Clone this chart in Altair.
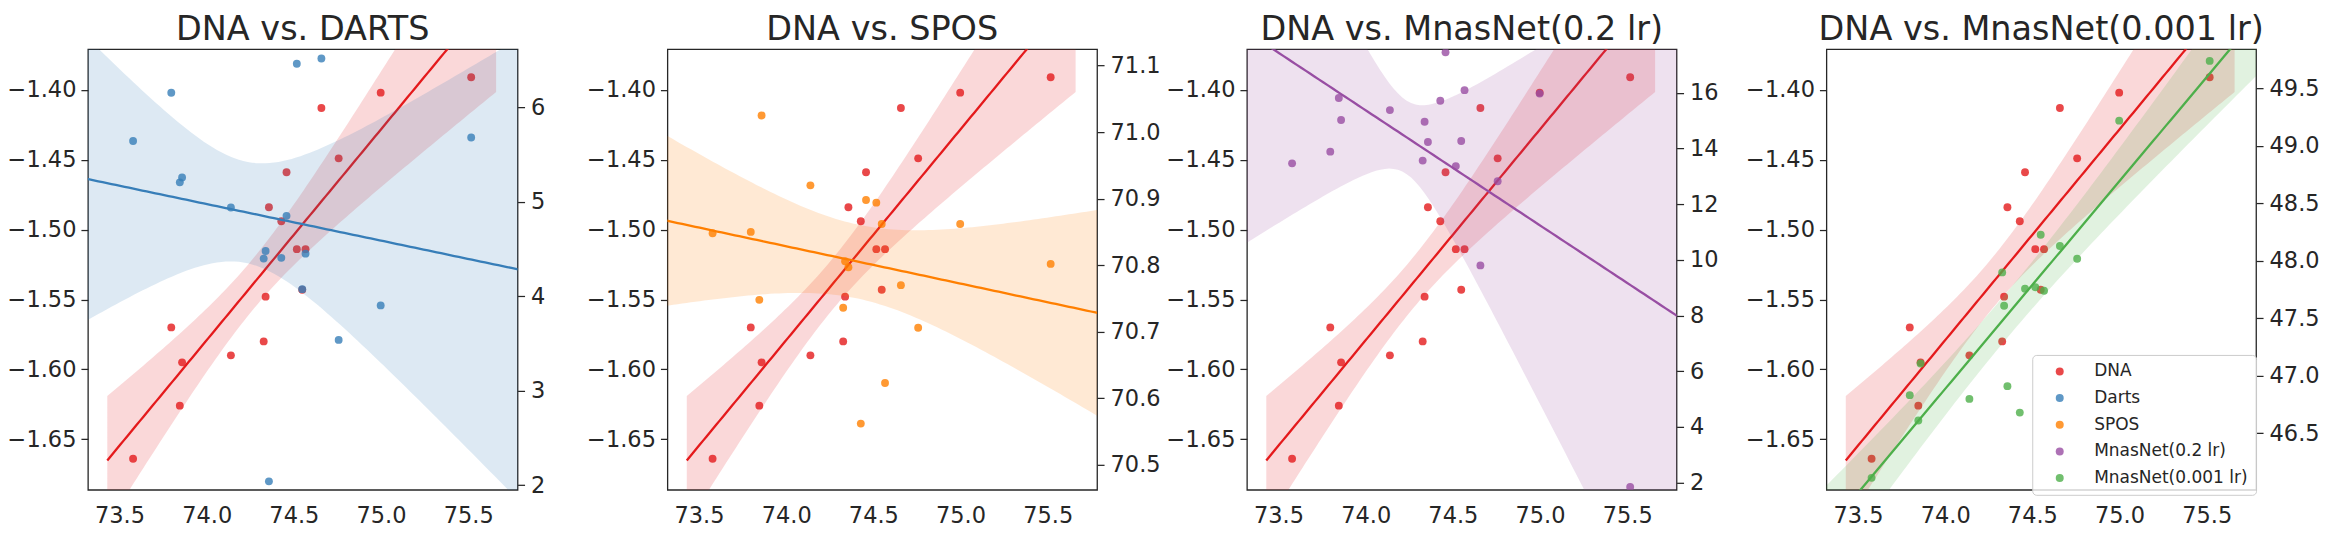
import altair as alt
import numpy as np
import pandas as pd

# ---------------- data ----------------
x_acc = [73.578, 73.797, 73.859, 73.846, 74.139, 74.327, 74.338, 74.357, 74.428,
         74.458, 74.517, 74.567, 74.548, 74.658, 74.757, 74.998, 75.517]
dna = [-1.664, -1.570, -1.595, -1.626, -1.590, -1.580, -1.548, -1.484, -1.494,
       -1.459, -1.514, -1.514, -1.543, -1.413, -1.449, -1.402, -1.391]
darts = [5.645, 6.156, 5.258, 5.207, 4.940, 4.399, 4.480, 2.040, 4.407,
         4.852, 6.463, 4.451, 4.075, 6.518, 3.538, 3.903, 5.682]
spos = [70.848, 70.850, 71.025, 70.748, 70.920, 70.736, 70.806, 70.797, 70.562,
        70.898, 70.894, 70.623, 70.862, 70.770, 70.706, 70.862, 70.802]
mnas02 = [13.469, 13.889, 15.025, 15.815, 15.383, 13.568, 14.963, 14.235, 15.716,
          17.457, 13.370, 16.099, 14.272, 9.802, 12.827, 15.975, 1.840]
mnas0001 = [46.110, 46.830, 47.105, 46.609, 46.797, 47.898, 47.608, 46.908, 46.678,
            47.757, 47.769, 47.739, 48.226, 48.128, 48.017, 49.219, 49.739]

series_names = ["DNA", "Darts", "SPOS", "MnasNet(0.2 lr)", "MnasNet(0.001 lr)"]
series_colors = ["#e41a1c", "#377eb8", "#ff7f00", "#984ea3", "#4daf4a"]
titles = ["DNA vs. DARTS", "DNA vs. SPOS", "DNA vs. MnasNet(0.2 lr)", "DNA vs. MnasNet(0.001 lr)"]

x_ticks = [73.5, 74.0, 74.5, 75.0, 75.5]
left_ticks = [-1.40, -1.45, -1.50, -1.55, -1.60, -1.65]
x_domain = [73.319, 75.783]
left_domain = [-1.6862, -1.3709]

right_ticks = [[2, 3, 4, 5, 6],
               [70.5, 70.6, 70.7, 70.8, 70.9, 71.0, 71.1],
               [2, 4, 6, 8, 10, 12, 14, 16],
               [46.5, 47.0, 47.5, 48.0, 48.5, 49.0, 49.5]]
right_formats = ["d", ".1f", "d", ".1f"]
right_domains = [[1.950, 6.617], [70.4625, 71.1246], [1.74, 17.57], [46.006, 49.841]]
others = [darts, spos, mnas02, mnas0001]
other_idx = [1, 2, 3, 4]

TEXT = "#262626"
FONT = "DejaVu Sans"


def fit_band(x, y, lo, hi, n=120):
    """OLS fit with a 95% band from HC3 (robust) standard errors."""
    x = np.asarray(x, float)
    y = np.asarray(y, float)
    X = np.column_stack([np.ones_like(x), x])
    XtX_inv = np.linalg.inv(X.T @ X)
    beta = XtX_inv @ X.T @ y
    resid = y - X @ beta
    h = np.einsum("ij,jk,ik->i", X, XtX_inv, X)
    w = resid ** 2 / (1.0 - h) ** 2
    V = XtX_inv @ (X.T * w) @ X @ XtX_inv
    grid = np.linspace(lo, hi, n)
    G = np.column_stack([np.ones_like(grid), grid])
    yhat = G @ beta
    se = np.sqrt(np.einsum("ij,jk,ik->i", G, V, G))
    z = 1.96
    return pd.DataFrame({"x": grid, "y": yhat, "lo": yhat - z * se, "hi": yhat + z * se})


color_scale = alt.Scale(domain=series_names, range=series_colors)
x_axis = alt.Axis(values=x_ticks, format=".1f", ticks=False, domain=False, grid=False,
                  labelPadding=15, title=None)
x_enc = alt.X("x:Q", scale=alt.Scale(domain=x_domain, nice=False, zero=False), axis=x_axis)


def group(vals, name, color, ydom, axis, legend, band_lo, band_hi):
    pts = pd.DataFrame({"x": x_acc, "y": vals, "s": name})
    band = fit_band(x_acc, vals, band_lo, band_hi)
    yscale = alt.Scale(domain=ydom, nice=False, zero=False)
    area = alt.Chart(band).mark_area(color=color, opacity=0.17, clip=True).encode(
        x=x_enc, y=alt.Y("lo:Q", scale=yscale, axis=axis), y2="hi:Q")
    line = alt.Chart(band).mark_line(color=color, strokeWidth=2.3, clip=True).encode(
        x=x_enc, y=alt.Y("y:Q", scale=yscale, axis=axis))
    dots = alt.Chart(pts).mark_circle(size=62, opacity=0.8, clip=True).encode(
        x=x_enc, y=alt.Y("y:Q", scale=yscale, axis=axis),
        color=alt.Color("s:N", scale=color_scale, legend=legend))
    return alt.layer(area, line, dots)


panels = []
for i in range(4):
    if i == 3:
        legend = alt.Legend(orient="none", legendX=206, legendY=306, title=None,
                            labelFontSize=17, labelFont=FONT, labelColor=TEXT,
                            symbolType="circle", symbolSize=64, symbolOpacity=0.8,
                            symbolStrokeWidth=0, fillColor="rgba(255,255,255,0.8)",
                            strokeColor="#cccccc", cornerRadius=4, padding=8,
                            symbolOffset=11, labelOffset=26, rowPadding=8.7)
    else:
        legend = None
    left_axis = alt.Axis(orient="left", values=left_ticks, format=".2f", title=None,
                         labelPadding=5)
    right_axis = alt.Axis(orient="right", values=right_ticks[i], format=right_formats[i],
                          title=None, labelPadding=6)
    lg = group(dna, "DNA", series_colors[0], left_domain, left_axis, legend, 73.43, 75.66)
    rg = group(others[i], series_names[other_idx[i]], series_colors[other_idx[i]],
               right_domains[i], right_axis, legend, 73.0, 76.0)
    p = alt.layer(lg, rg).resolve_scale(y="independent").properties(
        width=430, height=441,
        title=alt.Title(titles[i], fontSize=33.5, font=FONT, fontWeight="normal",
                        color=TEXT, anchor="middle", frame="group", offset=-24,
                        baseline="alphabetic"))
    panels.append(p)

chart = alt.hconcat(*panels, spacing=150, bounds="flush").resolve_scale(
    color="independent"
).properties(
    padding={"left": -2, "top": 3, "right": 0, "bottom": 0},
    background="white"
).configure_view(
    stroke=TEXT, strokeWidth=1.3
).configure_axis(
    labelFont=FONT, labelFontSize=22.5, labelColor=TEXT, tickColor=TEXT,
    tickWidth=1.25, tickSize=7, domain=False, grid=False
)

chart.save("out.html", embed_options={"renderer": "svg", "actions": False})
